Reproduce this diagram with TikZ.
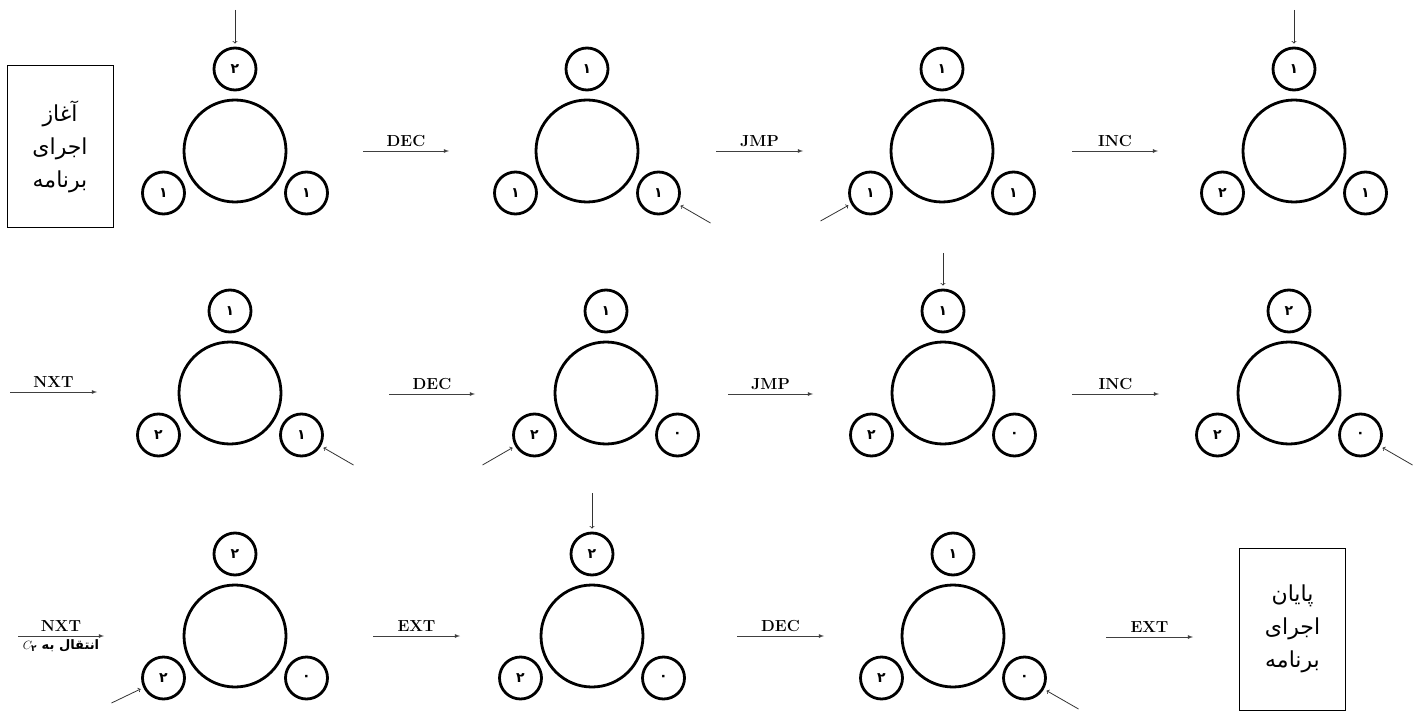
\documentclass[tikz,border=0pt]{standalone}
\usepackage{fontspec}
\usepackage{tikz}
\usetikzlibrary{arrows}
\newfontfamily\farsi[Script=Arabic]{DejaVu Sans}
\TeXXeTstate=1
\tikzset{big/.style={circle, draw, line width=2.8pt, minimum size=102pt, inner sep=0pt}}
\tikzset{small/.style={circle, draw, line width=2.8pt, minimum size=42pt, inner sep=0pt, font=\farsi\bfseries\fontsize{14}{14}\selectfont}}
\tikzset{box/.style={draw, line width=1pt, minimum width=106pt, minimum height=162pt, align=center, font=\farsi\fontsize{22}{33}\selectfont}}
\tikzset{op/.style={font=\bfseries\fontsize{16}{16}\selectfont, inner sep=4pt}}
\tikzset{sub/.style={font=\farsi\bfseries\fontsize{13}{13}\selectfont, inner sep=3pt}}
\tikzset{move/.style={-latex, line width=0.8pt, draw=black!75}}
\tikzset{ptr/.style={->, line width=0.8pt, draw=black!80, shorten >=3pt}}
\newcommand{\wheel}[6]{%
  \node[big] (#1) at (#2,#3) {};
  \node[small] (#1-t) at (#2,#3-82) {#4};
  \node[small] (#1-l) at (#2-71.5,#3+42) {#5};
  \node[small] (#1-r) at (#2+71.5,#3+42) {#6};}

\begin{document}
\begin{tikzpicture}[x=1pt, y=-1pt]
        \useasboundingbox (0,0) rectangle (1423,711);
        \node[box] (S) at (60,147) {\beginR آغاز\endR\\ \beginR اجرای\endR\\ \beginR برنامه\endR};
        \node[box] (E) at (1292.5,629) {\beginR پایان\endR\\ \beginR اجرای\endR\\ \beginR برنامه\endR};

        \wheel{A1}{235}{151}{۲}{۱}{۱}
        \wheel{A2}{587}{151}{۱}{۱}{۱}
        \wheel{A3}{942}{151}{۱}{۱}{۱}
        \wheel{A4}{1294}{151}{۱}{۲}{۱}
        \wheel{B1}{230}{393}{۱}{۲}{۱}
        \wheel{B2}{606}{393}{۱}{۲}{۰}
        \wheel{B3}{943}{393}{۱}{۲}{۰}
        \wheel{B4}{1289}{393}{۲}{۲}{۰}
        \wheel{C1}{235}{636}{۲}{۲}{۰}
        \wheel{C2}{592}{636}{۲}{۲}{۰}
        \wheel{C3}{953}{636}{۱}{۲}{۰}

        \coordinate (A1o) at (363,151);
        \coordinate (A2i) at (449,151);
        \coordinate (A2o) at (716,151);
        \coordinate (A3i) at (803,151);
        \coordinate (A3o) at (1072,151);
        \coordinate (A4i) at (1158,151);
        \coordinate (B0o) at (10,392);
        \coordinate (B1i) at (97,392);
        \coordinate (B1o) at (389,394);
        \coordinate (B2i) at (475,394);
        \coordinate (B2o) at (728,394);
        \coordinate (B3i) at (813,394);
        \coordinate (B3o) at (1072,394);
        \coordinate (B4i) at (1159,394);
        \coordinate (C0o) at (18,636);
        \coordinate (C1i) at (104,636);
        \coordinate (C1o) at (373,636);
        \coordinate (C2i) at (460,636);
        \coordinate (C2o) at (737,636);
        \coordinate (C3i) at (824,636);
        \coordinate (C3o) at (1106,637);
        \coordinate (Ei) at (1193,637);

        \draw[move] (A1o) -- node[op, above] {DEC} (A2i);
        \draw[move] (A2o) -- node[op, above] {JMP} (A3i);
        \draw[move] (A3o) -- node[op, above] {INC} (A4i);
        \draw[move] (B0o) -- node[op, above] {NXT} (B1i);
        \draw[move] (B1o) -- node[op, above] {DEC} (B2i);
        \draw[move] (B2o) -- node[op, above] {JMP} (B3i);
        \draw[move] (B3o) -- node[op, above] {INC} (B4i);
        \draw[move] (C0o) -- node[op, above] {NXT}
          node[sub, below] {\beginR انتقال به $C_{\hbox{\farsi\fontsize{9}{9}\selectfont ۲}}$\endR} (C1i);
        \draw[move] (C1o) -- node[op, above] {EXT} (C2i);
        \draw[move] (C2o) -- node[op, above] {DEC} (C3i);
        \draw[move] (C3o) -- node[op, above] {EXT} (Ei);

        \coordinate (pA1) at (235,10);
        \coordinate (pA2) at ([shift={(52,30)}]A2-r.center);
        \coordinate (pA3) at ([shift={(-50,28)}]A3-l.center);
        \coordinate (pA4) at (1294,10);
        \coordinate (pB1) at ([shift={(52,30)}]B1-r.center);
        \coordinate (pB2) at ([shift={(-52,30)}]B2-l.center);
        \coordinate (pB3) at (943,253);
        \coordinate (pB4) at ([shift={(52,30)}]B4-r.center);
        \coordinate (pC1) at ([shift={(-52,25)}]C1-l.center);
        \coordinate (pC2) at (592,493);
        \coordinate (pC3) at ([shift={(54,31)}]C3-r.center);

        \draw[ptr] (pA1) -- (A1-t);
        \draw[ptr] (pA2) -- (A2-r);
        \draw[ptr] (pA3) -- (A3-l);
        \draw[ptr] (pA4) -- (A4-t);
        \draw[ptr] (pB1) -- (B1-r);
        \draw[ptr] (pB2) -- (B2-l);
        \draw[ptr] (pB3) -- (B3-t);
        \draw[ptr] (pB4) -- (B4-r);
        \draw[ptr] (pC1) -- (C1-l);
        \draw[ptr] (pC2) -- (C2-t);
        \draw[ptr] (pC3) -- (C3-r);
      \end{tikzpicture}
\end{document}
